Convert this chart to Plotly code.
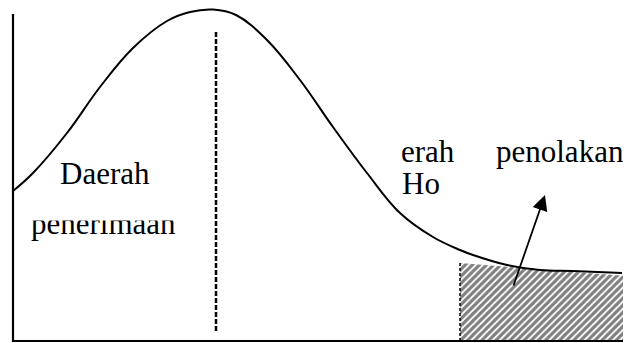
import plotly.graph_objects as go

W, H = 631, 343
PAGE_OFFSET = 8  # default body margin of the page

curve_x = [13, 33, 67, 100, 133, 167, 190, 213, 236, 267, 300, 333, 367, 400, 433, 460, 473, 507, 540, 573, 622]
curve_py = [191, 173, 133, 87, 48, 21, 12, 9.5, 15, 40, 80, 127, 173, 213, 237, 250, 255, 265, 270, 271, 273]
curve_y = [H - v for v in curve_py]

# Mean (dashed) line
mean_x = 216
mean_top, mean_bottom = H - 32, H - 333

# Rejection region (hatched)
rej_x = [460, 625, 625, 460, 460]
rej_py = [263, 276, 341, 341, 263]
rej_y = [H - v for v in rej_py]

# Axes
axis_x0, axis_x1 = 13, 628
axis_top, axis_bottom = H - 14, H - 341

# Labels: (text, left x, centre y from top)
labels = [
    ("Daerah", 59, 173),
    ("penerimaan", 30, 223),
    ("erah", 400, 151),
    ("penolakan", 495, 151),
    ("Ho", 401, 183),
]

# Arrow: tail -> head
arrow_tail = (513, H - 287)
arrow_head = (545, H - 195)

fig = go.Figure()

# hatched region
fig.add_trace(go.Scatter(
    x=rej_x, y=rej_y, mode="lines", fill="toself",
    line=dict(width=0, color="rgba(0,0,0,0)"),
    fillcolor="white",
    fillpattern=dict(shape="/", size=5, solidity=0.65, fgcolor="#000000", bgcolor="white"),
    hoverinfo="skip", showlegend=False))
# dashed left edge of region
fig.add_trace(go.Scatter(
    x=[rej_x[0], rej_x[0]], y=[rej_y[0], rej_y[3]], mode="lines",
    line=dict(color="black", width=1.5, dash="3px,2px"), showlegend=False))

# curve
fig.add_trace(go.Scatter(
    x=curve_x, y=curve_y, mode="lines",
    line=dict(color="black", width=2, shape="spline", smoothing=1.1),
    showlegend=False))

# dashed mean line
fig.add_trace(go.Scatter(
    x=[mean_x, mean_x], y=[mean_top, mean_bottom], mode="lines",
    line=dict(color="black", width=2.5, dash="5px,2px"), showlegend=False))

# axes lines
fig.add_trace(go.Scatter(
    x=[axis_x0, axis_x0, axis_x1], y=[axis_top, axis_bottom, axis_bottom], mode="lines",
    line=dict(color="black", width=2.2), showlegend=False))

for text, lx, cy in labels:
    fig.add_annotation(x=lx, y=H - cy, text=text, showarrow=False,
                       xanchor="left", yanchor="middle", borderpad=0,
                       font=dict(family="Liberation Serif", size=31, color="black"))

# white mask clipping top of "penerimaan"
fig.add_annotation(x=30, y=H - 205, text="", showarrow=False, xanchor="left", yanchor="top",
                   width=160, height=14, bgcolor="white", borderpad=0)

fig.add_annotation(x=arrow_head[0], y=arrow_head[1], ax=arrow_tail[0], ay=arrow_tail[1],
                   xref="x", yref="y", axref="x", ayref="y", text="",
                   showarrow=True, arrowhead=2, arrowsize=1.7, arrowwidth=1.8, arrowcolor="black")

fig.update_layout(
    width=W - PAGE_OFFSET, height=H - PAGE_OFFSET, margin=dict(l=0, r=0, t=0, b=0),
    paper_bgcolor="white", plot_bgcolor="white",
    xaxis=dict(range=[PAGE_OFFSET, W], visible=False, fixedrange=True),
    yaxis=dict(range=[0, H - PAGE_OFFSET], visible=False, fixedrange=True),
    showlegend=False,
)

fig.write_html("out.html")
